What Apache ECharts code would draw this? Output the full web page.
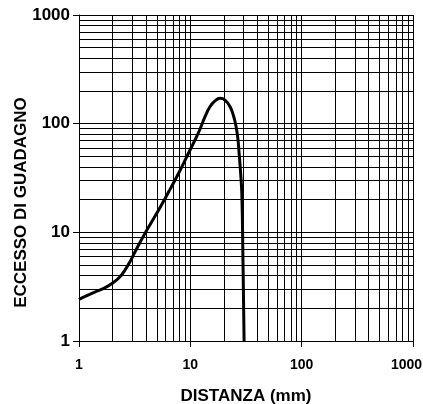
<!DOCTYPE html>
<html>
<head>
<meta charset="utf-8">
<script src="https://cdn.jsdelivr.net/npm/echarts@6/dist/echarts.min.js"></script>
<style>
  html, body { margin: 0; background: #fff; }
  #chart { width: 423px; height: 404px; }
</style>
</head>
<body>
<div id="chart"></div>
<script>
// distanza (mm) e eccesso di guadagno
const distanza = [1, 1.125, 1.385, 1.703, 2.023, 2.324, 2.578, 2.86, 3.172, 3.519, 3.903, 4.33, 4.8, 5.33, 6.55, 8.06, 9.92, 11.0, 12.2, 13.5, 15.0, 16.65, 18.5, 20.5, 22.7, 24.3, 25.6, 26.7, 27.5, 28.1, 29.0, 29.7, 30.4]
const eccesso = [2.41, 2.56, 2.82, 3.08, 3.43, 3.88, 4.47, 5.33, 6.55, 8.02, 9.73, 11.7, 14.0, 16.8, 24.7, 36.9, 56.9, 70.4, 88.9, 115, 143, 162, 171, 165, 143.6, 120, 97.3, 73.5, 51.5, 38.9, 22.8, 5.55, 1]

// righe della griglia logaritmica (2..9 per ogni decade)
const righeMinori = [2, 3, 4, 5, 6, 7, 8, 9, 20, 30, 40, 50, 60, 70, 80, 90, 200, 300, 400, 500, 600, 700, 800, 900]

const chart = echarts.init(document.getElementById('chart'))

const font = 'Liberation Sans, Arial, sans-serif'
const logAxis = {
    type: 'log',
    logBase: 10,
    min: 1,
    max: 1000,
    nameLocation: 'middle',
    nameMoveOverlap: false,
    axisLine: { show: true, lineStyle: { color: '#000', width: 1 } },
    axisTick: { show: true, length: 6, lineStyle: { color: '#000' } },
    splitLine: { show: true, lineStyle: { color: '#000', width: 1 } },
    nameTextStyle: { color: '#000', fontFamily: font, fontWeight: 'bold', fontSize: 17 }
}

const option = {
    animation: false,
    backgroundColor: '#fff',
    grid: { left: 79, right: 10, top: 15, bottom: 63, containLabel: false, outerBoundsMode: 'none' },
    xAxis: Object.assign({}, logAxis, {
        name: 'DISTANZA (mm)',
        nameGap: 47,
        axisLabel: {
            color: '#000',
            fontFamily: font,
            fontWeight: 'bold',
            fontSize: 14,
            margin: 17,
            // l'ultima etichetta sta dentro il bordo
            formatter: v => Math.round(v) >= 1000 ? '{e|1000}' : String(Math.round(v)),
            rich: {
                e: { color: '#000', fontFamily: font, fontWeight: 'bold', fontSize: 14, padding: [0, 13, 0, 0] }
            }
        }
    }),
    yAxis: Object.assign({}, logAxis, {
        name: 'ECCESSO DI GUADAGNO',
        nameGap: 49,
        nameTextStyle: Object.assign({}, logAxis.nameTextStyle, { padding: [0, 49, 0, 0] }),
        axisLabel: {
            color: '#000',
            fontFamily: font,
            fontWeight: 'bold',
            fontSize: 17,
            margin: 9,
            formatter: v => String(Math.round(v))
        }
    }),
    series: [
        {
            // solo griglia
            type: 'line',
            data: [],
            z: 1,
            silent: true,
            markLine: {
                silent: true,
                symbol: ['none', 'none'],
                label: { show: false },
                lineStyle: { color: '#000', width: 1, type: 'solid' },
                data: righeMinori.map(v => ({ xAxis: v }))
                    .concat(righeMinori.map(v => ({ yAxis: v })))
            }
        },
        {
            type: 'line',
            z: 5,
            smooth: 0.45,
            showSymbol: false,
            lineStyle: { color: '#000', width: 3 },
            data: distanza.map((d, i) => [d, eccesso[i]])
        }
    ]
}
chart.setOption(option)
</script>
</body>
</html>
